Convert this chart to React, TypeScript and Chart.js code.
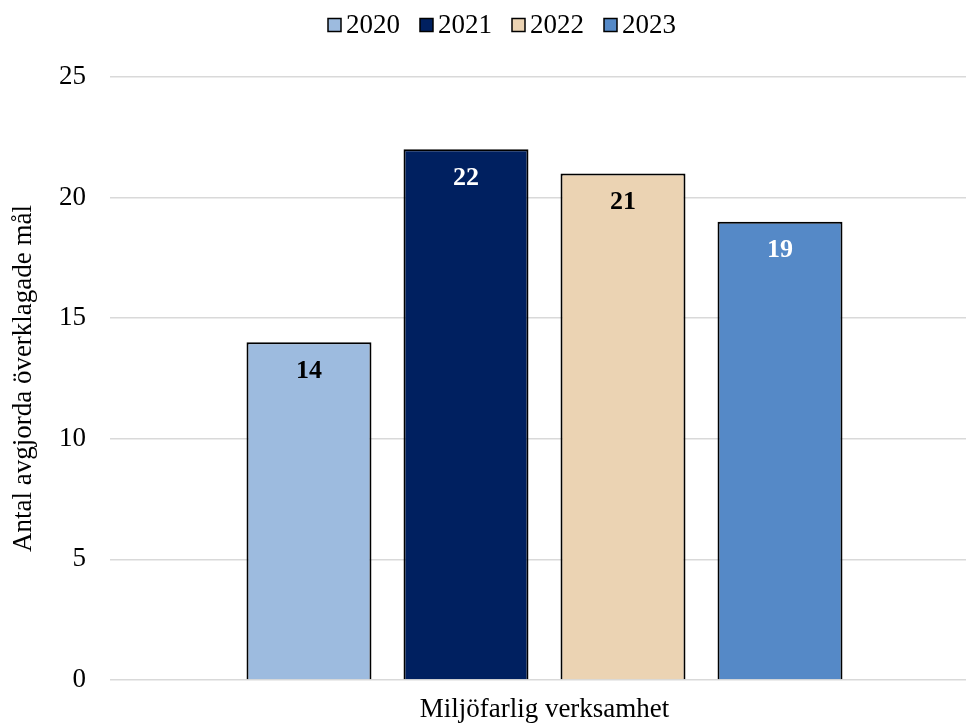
import React, { useEffect, useRef } from "react";
import { Chart, registerables } from "chart.js";

Chart.register(...registerables);

const categories = ["Miljöfarlig verksamhet"];
const seriesNames = ["2020", "2021", "2022", "2023"];
const values2020 = [14];
const values2021 = [22];
const values2022 = [21];
const values2023 = [19];
const seriesColors = ["#9DBBDF", "#002060", "#EBD3B3", "#5589C7"];
const labelColors = ["#000000", "#ffffff", "#000000", "#ffffff"];
const yTicks = [0, 5, 10, 15, 20, 25];
const yTitle = "Antal avgjorda överklagade mål";

const FONT = '"Liberation Serif", "Times New Roman", serif';

const legendPlugin = {
  id: "customLegend",
  afterDraw(chart: any) {
    const ctx = chart.ctx;
    ctx.save();
    ctx.font = `27px ${FONT}`;
    ctx.textBaseline = "alphabetic";
    ctx.textAlign = "left";
    let x = 328;
    const y = 25;
    const box = 13;
    chart.data.datasets.forEach((ds: any) => {
      ctx.fillStyle = ds.backgroundColor;
      ctx.fillRect(x, y - box / 2, box, box);
      ctx.strokeStyle = "#000";
      ctx.lineWidth = 1.5;
      ctx.strokeRect(x, y - box / 2, box, box);
      ctx.fillStyle = "#000";
      const tx = x + box + 5;
      ctx.fillText(ds.label, tx, 33);
      x = tx + ctx.measureText(ds.label).width + 20;
    });
    ctx.restore();
  },
};

const dataLabelPlugin = {
  id: "barLabels",
  afterDatasetsDraw(chart: any) {
    const ctx = chart.ctx;
    ctx.save();
    ctx.font = `bold 26px ${FONT}`;
    ctx.textAlign = "center";
    ctx.textBaseline = "middle";
    chart.data.datasets.forEach((ds: any, i: number) => {
      const meta = chart.getDatasetMeta(i);
      meta.data.forEach((bar: any, j: number) => {
        ctx.fillStyle = labelColors[i];
        ctx.fillText(String(ds.data[j]), bar.x, bar.y + 29);
      });
    });
    ctx.restore();
  },
};

export default function App() {
  const ref = useRef<HTMLCanvasElement | null>(null);
  useEffect(() => {
    document.body.style.margin = "0";
    document.body.style.overflow = "hidden";
    const allValues = [values2020, values2021, values2022, values2023];
    const chart = new Chart(ref.current!, {
      type: "bar",
      data: {
        labels: categories,
        datasets: seriesNames.map((name, i) => ({
          label: name,
          data: allValues[i],
          backgroundColor: seriesColors[i],
          borderColor: "#000000",
          borderWidth: 2,
          barPercentage: 0.796,
          categoryPercentage: 0.7227,
        })),
      },
      options: {
        animation: false,
        responsive: false,
        maintainAspectRatio: false,
        layout: { padding: { top: 77, right: 0, left: 0, bottom: 0 } },
        plugins: {
          legend: { display: false },
          tooltip: { enabled: false },
        },
        scales: {
          x: {
            grid: { display: false, drawTicks: false },
            border: { display: false },
            ticks: {
              color: "#000",
              font: { family: FONT, size: 27 },
              padding: 14,
            },
            afterFit(scale: any) {
              scale.height = 44;
            },
          },
          y: {
            min: 0,
            max: 25,
            afterBuildTicks(scale: any) {
              scale.ticks = yTicks.map((v) => ({ value: v }));
            },
            grid: { color: "#d9d9d9", lineWidth: 1.5, drawTicks: false },
            border: { display: false },
            ticks: {
              color: "#000",
              font: { family: FONT, size: 27 },
              padding: 24,
            },
            title: {
              display: true,
              text: yTitle,
              color: "#000",
              font: { family: FONT, size: 27 },
              padding: { top: 8, bottom: 0 },
            },
            afterFit(scale: any) {
              scale.width = 110;
            },
          },
        },
      },
      plugins: [legendPlugin, dataLabelPlugin],
    });
    return () => chart.destroy();
  }, []);
  return (
    <div style={{ width: 966, height: 724, overflow: "hidden" }}>
      <canvas ref={ref} width={979} height={724} style={{ display: "block" }} />
    </div>
  );
}
